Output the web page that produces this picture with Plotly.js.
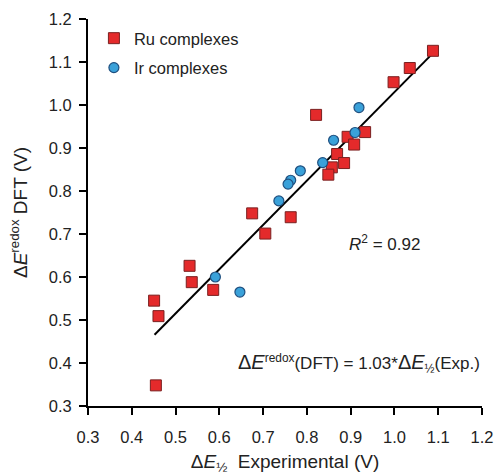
<!DOCTYPE html>
<html><head><meta charset="utf-8">
<script src="https://cdn.plot.ly/plotly-3.0.1.min.js"></script>
<style>html,body{margin:0;padding:0;background:#fff}#chart{width:496px;height:475px}</style>
</head><body><div id="chart"></div>
<script>
const ruX = [1.088, 1.035, 0.998, 0.821, 0.933, 0.893, 0.908, 0.869, 0.885, 0.857, 0.849, 0.763, 0.675, 0.705, 0.532, 0.537, 0.586, 0.451, 0.461, 0.455];
const ruY = [1.126, 1.086, 1.053, 0.977, 0.937, 0.926, 0.908, 0.886, 0.865, 0.855, 0.838, 0.739, 0.748, 0.701, 0.626, 0.588, 0.570, 0.545, 0.509, 0.348];
const irX = [0.919, 0.910, 0.861, 0.836, 0.785, 0.763, 0.757, 0.736, 0.591, 0.647];
const irY = [0.994, 0.936, 0.918, 0.866, 0.847, 0.825, 0.816, 0.777, 0.600, 0.565];
const fitSlope = 1.03;
const fitX = [0.452, 1.088];
const fitY = fitX.map(v => fitSlope * v);
const xTicks = [0.3, 0.4, 0.5, 0.6, 0.7, 0.8, 0.9, 1.0, 1.1, 1.2];
const yTicks = [0.3, 0.4, 0.5, 0.6, 0.7, 0.8, 0.9, 1.0, 1.1, 1.2];
const legendNames = ['Ru complexes', 'Ir complexes'];

const fam = 'Liberation Sans, Arial, sans-serif';
const font = {family: fam, size: 16.5, color: '#222'};
const titleFont = {family: fam, size: 19, color: '#222'};
const annFont = {family: fam, size: 17, color: '#222'};

const traces = [
  {x: fitX, y: fitY, mode: 'lines', line: {color: '#000', width: 2}, showlegend: false, hoverinfo: 'skip'},
  {x: ruX, y: ruY, mode: 'markers', name: legendNames[0], legendgroup: 'ru',
   marker: {symbol: 'square', size: 11, color: '#e42a2b', line: {color: '#7a2020', width: 1}}},
  {x: irX, y: irY, mode: 'markers', name: legendNames[1], legendgroup: 'ir',
   marker: {symbol: 'circle', size: 10, color: '#3aa1d9', line: {color: '#1f4f7f', width: 1.2}}}
];

const axisCommon = {
  showgrid: false, zeroline: false, showline: true, linecolor: '#000', linewidth: 2,
  ticks: 'outside', ticklen: 7, tickwidth: 2, tickcolor: '#000',
  tickfont: font, tickformat: '.1f'
};

const layout = {
  width: 496, height: 475,
  margin: {l: 88, r: 14, t: 19, b: 69},
  paper_bgcolor: '#fff', plot_bgcolor: '#fff',
  font: font,
  xaxis: Object.assign({}, axisCommon, {range: [0.3, 1.2], tickvals: xTicks, ticklabelstandoff: 8,
    title: {text: 'Δ<i>E</i><sub>½</sub>  Experimental (V)', font: titleFont, standoff: 12}}),
  yaxis: Object.assign({}, axisCommon, {range: [0.3, 1.2], tickvals: yTicks, ticklabelstandoff: 4,
    title: {text: 'Δ<i>E</i><sup>redox</sup> DFT (V)', font: titleFont, standoff: 16}}),
  showlegend: true,
  legend: {x: 0.015, y: 0.995, xanchor: 'left', yanchor: 'top', bgcolor: 'rgba(0,0,0,0)',
    font: font, traceorder: 'grouped', tracegroupgap: 5, itemwidth: 30},
  annotations: [
    {xref: 'paper', yref: 'paper', x: 0.848, y: 0.421, xanchor: 'right', yanchor: 'middle', showarrow: false,
     text: '<i>R</i><sup>2</sup> = 0.92', font: annFont},
    {xref: 'paper', yref: 'paper', x: 1.0, y: 0.111, xanchor: 'right', yanchor: 'middle', showarrow: false,
     text: '<span style="font-size:20px">Δ<i>E</i></span><sup>redox</sup>(DFT) = 1.03*<span style="font-size:20px">Δ<i>E</i></span><sub>½</sub>(Exp.)', font: annFont}
  ]
};

Plotly.newPlot('chart', traces, layout, {displayModeBar: false, staticPlot: true});
</script></body></html>
